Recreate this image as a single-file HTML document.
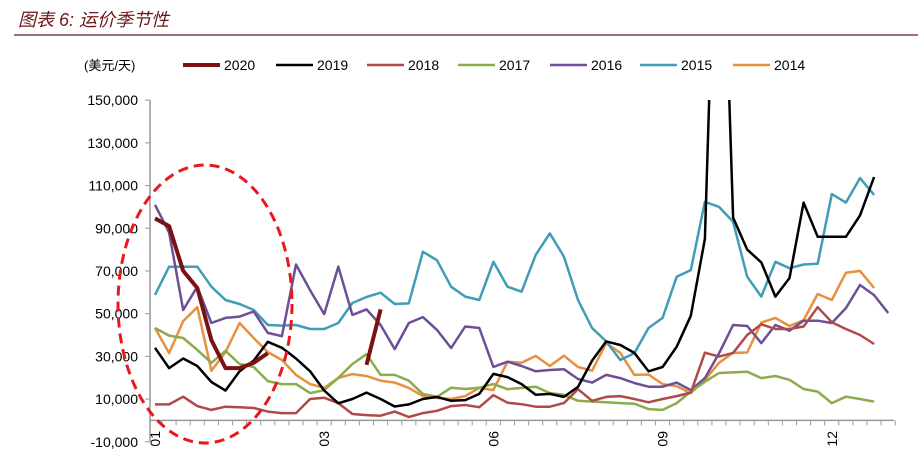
<!DOCTYPE html>
<html><head><meta charset="utf-8"><style>
body{margin:0;background:#fff;}
svg{display:block;font-family:"Liberation Sans","Noto Sans CJK SC",sans-serif;}
</style></head><body>
<svg id="c" width="923" height="455">
<text x="18" y="26" font-size="18" font-style="italic" fill="#6b1a1a">图表 6: 运价季节性</text>
<line x1="14" y1="35" x2="918" y2="35" stroke="#6b1a1a" stroke-width="1.2"/>
<text x="84" y="70" font-size="13" fill="#000">(美元/天)</text>
<g id="legend"></g>
<g id="axes"></g>
<defs><clipPath id="pc"><rect x="150" y="100" width="760" height="330"/></clipPath></defs>
<g id="series" clip-path="url(#pc)"></g>
<ellipse cx="205" cy="304" rx="87" ry="139" fill="none" stroke="#e8191e" stroke-width="3" stroke-dasharray="10,6"/>
</svg>
<script>
const years=["2020","2019","2018","2017","2016","2015","2014"];
const colors=["#7b1113","#000000","#b04a48","#8aac4c","#6e4f96","#3f9db5","#e8903e"];
const yTicks=[-10000,10000,30000,50000,70000,90000,110000,130000,150000];
const xTickLabels=["01","03","06","09","12"];
const xTickIdx=[0,12,24,36,48];
const s2020=[94.6,91,70,62,37.6,24.5,24.5,27,31.5,null,null,null,null,null,null,26,52];
const s2019=[34,24.5,29,25.5,18,14,23,28,36.8,34,29,23,14,8,10,13,10,6.5,7.5,10,11,9.2,9.5,12.4,21.8,20.3,17,12,12.4,11,15.7,28,37,35.3,31.6,23,25,34.5,49,85,300,95,80,74,58,66.7,102,86,86,86,96,114];
const s2018=[7.5,7.5,11.1,6.7,4.9,6.4,6.2,5.8,4.1,3.4,3.4,10,10.6,8.1,3,2.5,2.2,4.1,1.6,3.4,4.5,6.7,7.2,6.2,11.8,8.3,7.6,6.4,6.4,8.1,14.6,9.2,11,11.4,10,8.5,10,11.4,13,31.7,29.9,31.6,40,45,42.8,42.8,44,53,46,42.8,40,35.8];
const s2017=[43.3,39.7,38.6,33,27,32.6,26.4,25,18.4,17,17,12.8,14.2,19.9,26.4,31,21.3,21.3,18.6,12.4,11,15.3,14.7,15.3,17,14.6,15.2,15.8,12.8,12,9.2,8.8,8.5,8.1,7.8,5.3,4.9,8.1,13.5,18.1,22.2,22.5,22.8,19.8,20.8,19,14.7,13.5,8.1,11.1,10,8.8];
const s2016=[101,88,51.7,62.6,45.6,48,48.6,51,41,39.5,73,61,49.8,72,49.4,52,44.7,33.4,45.6,48.4,42.4,33.9,44,43.3,25,27.5,25.5,23,23.6,24,19.4,17.7,21.3,19.8,17.5,15.8,15.8,17.7,14.2,19.8,31.4,44.7,44.2,36.2,44.7,42,46.7,46.7,45.6,52.6,63.4,58.7,50.3];
const s2015=[58.8,72,72,72,62.6,56.4,54.5,51.7,44.7,44.4,44.7,42.8,42.8,45.6,55,57.8,59.8,54.5,54.8,79,75,62.6,58,56.4,74.3,62.6,60.3,77.5,87.6,76.7,56.4,43.3,37,28.3,31.5,43.3,48,67.3,70.4,102.4,100,93,67.3,58,74.3,71.3,73,73.4,106,102,113.5,105.6];
const s2014=[43.3,31.5,46.5,53,23.3,32,45.6,38.6,32,28.3,21.3,17,15.2,19.9,21.7,20.8,18.6,17.7,15.2,11.4,10.5,10,11.4,15.2,14.2,27.5,27,30.2,25.5,30.3,25,23.3,36.2,31.6,21.3,21.5,17,16,12.8,19,27,31.6,31.8,45.8,48,44.2,47,59.2,56.4,69.2,70,62];
const allSeries=[s2020,s2019,s2018,s2017,s2016,s2015,s2014];
const NS="http://www.w3.org/2000/svg";
function X(i){return 155+i*14.1;}
function Y(v){return 420.4-v/1000*2.135;}
function mk(tag,attrs,parent){const e=document.createElementNS(NS,tag);for(const k in attrs)e.setAttribute(k,attrs[k]);parent.appendChild(e);return e;}
const axes=document.getElementById('axes');
let ya=mk('line',{x1:150,y1:100,x2:150,y2:441,stroke:'#999','stroke-width':1.5},axes);


yTicks.forEach(v=>{
  const t=mk('line',{x1:145,y1:Y(v),x2:150,y2:Y(v),stroke:'#999','stroke-width':1},axes);
  
  
  const l=mk('text',{x:138,y:Y(v)+5,'font-size':14,'text-anchor':'end',fill:'#000'},axes);
  l.textContent=v.toLocaleString('en-US');
  
  
});
let xa=mk('line',{x1:150,y1:Y(0),x2:894,y2:Y(0),stroke:'#999','stroke-width':1.5},axes);


for(let i=0;i<=52;i++){
  const t=mk('line',{x1:X(i)+7,y1:Y(0),x2:X(i)+7,y2:Y(0)+5,stroke:'#999','stroke-width':1},axes);
  
  
}
xTickLabels.forEach((s,k)=>{
  const x=X(xTickIdx[k])+5;
  const l=mk('text',{x:0,y:0,'font-size':14,'text-anchor':'end',fill:'#000',transform:`translate(${x},431) rotate(-90)`},axes);
  l.textContent=s;
  
  
});
const sg=document.getElementById('series');
allSeries.slice().reverse().forEach((arr,ri)=>{
  const k=allSeries.length-1-ri;
  let d='',pen=false;
  arr.forEach((v,i)=>{if(v==null){pen=false;return;}d+=(pen?'L':'M')+X(i).toFixed(1)+','+Y(v*1000).toFixed(1);pen=true;});
  const p=mk('path',{d:d,fill:'none',stroke:colors[k],'stroke-width':k==0?4:2.5,'stroke-linejoin':'round'},sg);
  
  
});
const lg=document.getElementById('legend');
const lx=[183,276,367,458,550,640,733];
years.forEach((y,k)=>{
  const l=mk('line',{x1:lx[k],y1:65,x2:lx[k]+37,y2:65,stroke:colors[k],'stroke-width':k==0?4:2.5},lg);
  
  
  const t=mk('text',{x:lx[k]+41,y:70,'font-size':14,fill:'#000'},lg);
  t.textContent=y;
  
  
});
</script>
</body></html>
